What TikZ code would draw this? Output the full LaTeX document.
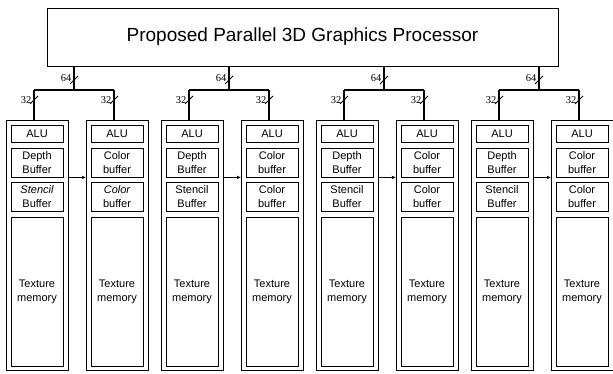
\documentclass[tikz,border=0pt]{standalone}
\usepackage{fontspec}
\setsansfont{Liberation Sans}
\newfontfamily\busfont{Liberation Serif}
\usepackage{tikz}
\usetikzlibrary{arrows.meta, positioning, calc}

\begin{document}
\begin{tikzpicture}[x=1pt, y=-1pt, font=\sffamily,
    pebox/.style={draw, line width=0.8pt, minimum width=62pt, minimum height=250pt, inner sep=0pt},
    cell/.style={draw, line width=0.8pt, minimum width=52pt, inner sep=0pt, align=center,
        font=\sffamily\fontsize{11}{14}\selectfont},
    bus/.style={line width=1.3pt},
    buslabel/.style={inner sep=0pt, font=\busfont\fontsize{10.5}{12}\selectfont}]
    \useasboundingbox (0,0) rectangle (613,374);

    % Top processor box
    \node[draw, line width=0.8pt, minimum width=511pt, minimum height=58pt, inner sep=0pt] (gpu) at (302.5,37)
        {\fontsize{19}{22}\selectfont Proposed Parallel 3D Graphics Processor};

    % One pair of processing elements per 64-bit bus
    \foreach \i in {0,...,3} {
        \pgfmathsetmacro{\L}{6+155*\i}

        % Outer boxes
        \node[pebox] (a\i) at (\L+31,245) {};
        \node[pebox] (b\i) at (\L+111,245) {};

        % Left element: depth / stencil
        \node[cell, minimum height=17pt] (alua\i) at (\L+31,133.5) {ALU};
        \node[cell, minimum height=29pt] (depth\i) at (\L+31,162.5) {Depth\\Buffer};
        \node[cell, minimum height=29pt] (stencil\i) at (\L+31,196.5) {{\ifnum\i=0 \itshape\fi Stencil}\\Buffer};
        \node[cell, minimum height=149pt] (texa\i) at (\L+31,291.5) {Texture\\memory};

        % Right element: colour buffers
        \node[cell, minimum height=17pt] (alub\i) at (\L+111,133.5) {ALU};
        \node[cell, minimum height=29pt] (colora\i) at (\L+111,162.5) {Color\\buffer};
        \node[cell, minimum height=29pt] (colorb\i) at (\L+111,196.5) {{\ifnum\i=0 \itshape\fi Color}\\buffer};
        \node[cell, minimum height=149pt] (texb\i) at (\L+111,291.5) {Texture\\memory};

        % Bus taps
        \coordinate (bus\i) at (\L+68,90);
        \coordinate (tapa\i) at (\L+28,90);
        \coordinate (tapb\i) at (\L+108,90);
        \draw[bus] (gpu.south -| bus\i) -- (bus\i);
        \draw[bus] (tapa\i) -- (tapb\i);
        \draw[bus] (tapa\i) -- (tapa\i |- a\i.north);
        \draw[bus] (tapb\i) -- (tapb\i |- b\i.north);

        % Bus widths
        \draw[line width=0.8pt] (\L+64,84) -- (\L+72,76);
        \node[buslabel] (w64\i) at (\L+60,78) {64};
        \draw[line width=0.8pt] (\L+24,104) -- (\L+32,96);
        \node[buslabel] (w32a\i) at (\L+20,100) {32};
        \draw[line width=0.8pt] (\L+104,104) -- (\L+112,96);
        \node[buslabel] (w32b\i) at (\L+100,100) {32};

        % Link between the two elements
        \draw[line width=0.8pt, -{Stealth[length=4pt, width=3.5pt]}] (a\i.east |- depth\i.south) -- (b\i.west |- depth\i.south);
    }
\end{tikzpicture}
\end{document}
